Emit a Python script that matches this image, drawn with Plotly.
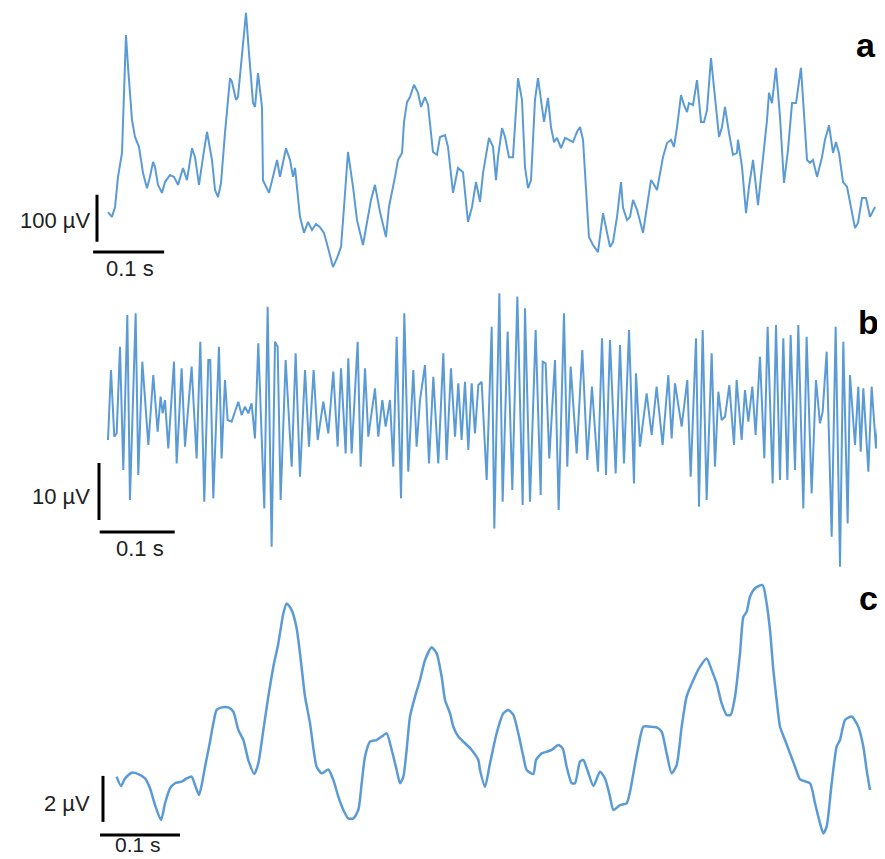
import plotly.graph_objects as go

# ---------------- Panel a (time in ms, amplitude in µV) ----------------
a_t_ms = [0, 5.6, 9.9, 14.1, 19.7, 25.3, 28.2, 33.8, 38.0, 43.6, 49.3, 54.9, 59.1, 63.4, 66.2, 70.4,
          76.0, 80.3, 87.3, 92.9, 98.6, 105.6, 111.2, 118.3, 122.5, 128.1, 133.8, 139.4, 146.4, 150.7,
          154.9, 159.1, 164.7, 171.8, 174.6, 180.2, 183.0, 188.7, 194.3, 198.5, 204.2, 207.0, 211.2,
          216.8, 218.2, 226.7, 232.3, 238.0, 242.2, 250.6, 256.3, 260.5, 263.3, 267.5, 270.3, 276.0,
          281.6, 287.2, 292.9, 298.5, 304.1, 309.8, 316.8, 322.4, 328.1, 332.3, 337.9, 345.0, 350.6,
          359.0, 364.7, 370.3, 375.9, 383.0, 391.4, 395.6, 404.1, 408.3, 414.0, 416.8, 421.0, 425.2,
          430.8, 436.5, 440.7, 446.3, 450.6, 457.6, 463.2, 467.5, 474.5, 478.7, 485.8, 492.8, 499.8,
          506.9, 512.5, 518.1, 523.8, 528.0, 536.4, 542.1, 546.3, 549.1, 554.8, 559.0, 564.6, 570.2,
          577.3, 582.9, 587.1, 591.4, 595.6, 601.2, 605.4, 611.1, 613.9, 619.5, 623.7, 628.0, 632.2,
          637.8, 643.5, 649.1, 654.7, 660.4, 664.6, 668.8, 673.0, 677.2, 682.9, 689.9, 697.0, 702.6,
          706.8, 711.0, 716.7, 722.3, 725.1, 730.8, 735.0, 739.2, 744.9, 753.3, 758.9, 764.5, 767.4,
          773.0, 781.4, 787.1, 792.7, 796.9, 801.2, 806.8, 811.0, 815.3, 818.0, 823.7, 829.3, 835.0,
          839.2, 843.4, 849.0, 854.7, 860.3, 864.5, 868.7, 874.4, 880.0, 885.6, 887.0, 892.7, 898.3,
          902.5, 908.2, 915.2, 922.2, 927.9, 930.7, 934.9, 940.5, 946.2, 951.8, 957.4, 963.1, 968.7,
          975.7, 980.0, 984.2, 988.4, 992.6, 998.3, 1005.3, 1009.5, 1015.2, 1020.8, 1025.0, 1029.2,
          1034.9, 1040.5, 1046.2, 1051.8, 1056.0, 1061.6, 1067.3, 1072.9, 1080.0]
a_uv = [38, 28, 49, 113, 164, 415, 347, 234, 198, 177, 121, 89, 113, 145, 134, 96,
        79, 102, 117, 113, 96, 132, 106, 174, 155, 96, 155, 209, 149, 85,
        70, 100, 206, 323, 315, 277, 283, 368, 462, 377, 270, 262, 334,
        262, 106, 79, 113, 149, 113, 174, 149, 113, 132, 70, 28, -6,
        17, 0, 13, 6, -6, -38, -79, -60, -36, 49, 166, 92, 21,
        -32, 15, 64, 96, 38, -15, 49, 113, 149, 164, 230, 272, 283,
        309, 292, 262, 283, 266, 166, 160, 198, 202, 177, 79, 132, 123,
        17, 49, 102, 60, 121, 196, 177, 106, 155, 217, 198, 155, 155,
        323, 277, 134, 89, 106, 277, 323, 255, 230, 281, 219, 187, 196,
        174, 196, 192, 187, 209, 219, 192, 100, -15, -32, -47, 36, -6,
        -36, -26, 28, 102, 47, 21, 28, 64, 43, -6, 49, 106, 100,
        85, 155, 185, 192, 177, 219, 287, 266, 251, 270, 266, 319, 230,
        230, 255, 366, 277, 198, 219, 262, 206, 160, 164, 192, 134, 36,
        92, 149, 53, 149, 234, 292, 270, 345, 240, 100, 170, 270, 270,
        345, 240, 149, 143, 149, 113, 155, 192, 223, 164, 187, 164,
        102, 92, 49, 4, 15, 68, 68, 28, 49]

# ---------------- Panel b ----------------
b_t_ms = [0, 4.0, 8.4, 11.6, 16.0, 20.4, 25.8, 29.3, 36.9, 40.4, 45.8, 53.8, 60.4, 66.2, 70.2, 72.9,
          76.0, 80.4, 88.0, 91.6, 98.2, 102.7, 111.5, 118.2, 123.1, 128.4, 133.8, 136.4, 140.4, 148.0,
          151.5, 156.0, 159.5, 164.9, 173.8, 178.2, 182.7, 187.1, 191.5, 196.0, 200.4, 208.4, 212.9,
          218.2, 222.7, 226.2, 230.2, 236.9, 244.9, 250.2, 256.0, 262.7, 268.0, 274.2, 279.6, 287.1,
          293.8, 300.4, 306.2, 310.7, 316.9, 320.4, 324.9, 332.9, 336.9, 342.7, 347.1, 356.0, 360.4,
          365.8, 370.2, 376.0, 380.4, 384.9, 390.7, 395.1, 400.4, 407.1, 411.5, 416.0, 422.7, 428.0,
          433.8, 440.4, 447.1, 451.5, 457.3, 462.7, 467.1, 471.5, 476.0, 480.4, 484.9, 489.3, 493.8,
          498.2, 504.9, 511.6, 515.1, 521.8, 526.2, 532.9, 539.1, 545.8, 552.9, 556.0, 562.7, 570.2,
          576.9, 579.6, 583.5, 588.4, 596.0, 600.9, 608.0, 612.4, 616.9, 624.9, 632.4, 639.1, 645.3,
          653.3, 658.7, 664.0, 669.3, 676.9, 682.7, 688.0, 694.7, 701.3, 704.0, 709.3, 718.2, 724.9,
          731.5, 739.5, 747.1, 751.5, 756.0, 764.9, 772.4, 776.9, 784.0, 788.0, 792.9, 798.2, 804.9,
          809.3, 813.8, 818.2, 822.7, 828.4, 834.7, 838.2, 844.9, 849.3, 853.8, 859.1, 863.5, 869.3,
          875.1, 879.5, 886.2, 890.7, 896.0, 900.4, 905.8, 910.2, 916.0, 920.4, 927.1, 931.5, 938.2,
          944.0, 949.3, 952.9, 958.2, 964.9, 970.2, 976.0, 980.4, 986.2, 989.3, 996.0, 1000.4, 1003.6,
          1007.1, 1013.8, 1018.2, 1024.0, 1031.5]
b_uv = [-4.74, 7.54, -4.16, -3.57, 11.63, -10.00, 17.19, -15.27, 17.48, -10.88, 9.00, -5.62, 6.66, -3.28, 2.86, -0.06,
        2.28, -6.20, 9.00, -8.83, 7.83, -5.91, 8.13, -7.96, 12.51, -15.56, 9.30, 9.30, -14.97, 11.63,
        -7.96, 5.79, -1.23, -1.52, 1.98, -0.35, 1.11, -0.06, 1.69, -4.45, 12.22, -16.73, 18.65,
        -23.45, 12.51, 11.63, -15.27, 9.30, -9.42, 10.46, -11.17, 7.54, -5.91, 7.54, -4.74, 1.98,
        -3.57, 7.25, -5.91, 7.83, -7.08, 9.59, -7.08, 12.51, -9.42, 7.83, -4.16, 4.32, -4.16,
        2.28, -2.40, 2.28, -9.42, 13.39, -14.97, 17.48, -10.30, 7.54, -5.91, 2.28, 8.42, -8.83,
        6.37, -8.83, 10.46, -8.25, 7.83, -4.16, 5.20, -4.74, 5.49, -6.49, 5.20, -3.57, 4.91,
        5.49, -11.76, 15.14, -20.24, 20.99, -15.56, 14.27, -13.51, 20.41, -16.14, 18.36, -15.56, 14.56,
        -14.39, 9.00, 8.71, -7.96, 9.30, -17.02, 17.48, -9.42, 8.13, -7.08, 11.05, -8.25, 4.62,
        -10.30, 13.10, -10.88, 12.80, -10.59, 11.93, -8.83, 14.56, -12.34, 6.96, -5.91, 3.45, -3.86,
        4.62, -5.62, 6.66, -4.45, 5.20, -2.40, 5.79, -11.17, 13.10, -16.44, 14.56, -15.27, 10.46,
        -9.42, 3.74, -1.23, -0.65, 4.91, -5.62, 5.79, -4.74, 4.03, -1.52, 4.62, -3.86, 9.88,
        -7.96, 15.14, -12.34, 15.44, -11.76, 13.10, -11.76, 13.68, -10.00, 15.44, -16.73, 13.39, -14.10,
        5.79, -1.82, 0.23, 10.76, -21.70, 15.14, -26.96, 12.51, -19.36, 6.66, -5.62, 4.62, -6.79,
        4.32, -10.30, 4.62, -6.20, 4.62]

# ---------------- Panel c ----------------
c_t_ms = [10.8, 16.3, 21.3, 29.6, 37.9, 46.3, 52.5, 58.8, 66.3, 71.3, 77.5, 83.8, 92.1, 98.3, 104.6,
          108.8, 113.8, 117.1, 121.3, 127.5, 131.7, 135.8, 142.1, 150.4, 156.7, 162.9, 169.2, 175.4,
          182.9, 187.9, 194.2, 200.4, 206.7, 212.9, 219.2, 223.3, 229.6, 235.8, 240.0, 246.3, 252.5,
          260.8, 267.1, 275.4, 281.7, 287.9, 294.2, 300.4, 306.7, 312.9, 317.1, 321.3, 327.5, 335.8,
          342.1, 348.3, 354.6, 360.8, 365.0, 369.2, 373.3, 377.5, 383.8, 390.0, 396.3, 404.6, 410.8,
          417.1, 421.3, 427.5, 431.7, 437.9, 446.3, 454.6, 462.9, 465.0, 471.3, 477.5, 485.8, 494.2,
          500.4, 506.7, 512.9, 519.2, 523.3, 531.7, 535.0, 542.1, 548.3, 554.6, 562.9, 568.3, 573.3,
          579.6, 583.8, 590.0, 594.2, 599.2, 606.7, 615.0, 621.3, 627.5, 631.7, 640.0, 648.3, 652.5,
          656.7, 662.9, 669.2, 677.5, 685.8, 692.1, 698.3, 704.6, 710.8, 717.1, 723.3, 731.7, 740.0,
          748.3, 754.6, 760.8, 767.1, 773.3, 778.3, 783.8, 790.0, 794.2, 798.3, 802.5, 808.8, 818.3,
          823.3, 827.5, 831.7, 835.8, 840.0, 846.3, 852.5, 858.8, 865.0, 877.5, 883.8, 890.0, 894.2,
          898.3, 904.6, 910.8, 915.0, 921.3, 929.6, 937.9, 944.2, 948.3, 952.5]
c_uv = [-3.33, -3.74, -3.41, -3.16, -3.22, -3.41, -3.84, -4.57, -5.22, -4.49, -3.84, -3.62, -3.55, -3.41, -3.33,
        -3.70, -4.13, -3.70, -2.90, -1.81, -1.01, -0.43, -0.32, -0.32, -0.51, -1.30, -1.74, -2.61,
        -3.22, -2.75, -1.30, 0.15, 1.45, 2.46, 3.77, 4.20, 3.91, 3.12, 2.03, 0.15, -1.01,
        -2.90, -3.19, -3.02, -3.48, -4.20, -4.78, -5.15, -5.15, -4.78, -3.62, -2.46, -1.81, -1.74,
        -1.59, -1.45, -2.17, -3.04, -3.62, -3.33, -2.17, -0.72, 0.15, 0.87, 1.74, 2.29, 2.03,
        1.01, 0.00, -0.58, -1.16, -1.59, -1.88, -2.17, -2.61, -3.04, -3.77, -2.75, -1.45, -0.58,
        -0.43, -0.65, -1.45, -2.46, -3.04, -3.22, -2.61, -2.32, -2.25, -2.17, -1.96, -2.10, -2.90,
        -3.62, -3.62, -2.68, -2.61, -3.04, -3.74, -3.12, -3.41, -4.20, -4.78, -4.57, -4.49, -3.99,
        -3.19, -2.03, -1.16, -1.16, -1.19, -1.38, -2.32, -3.19, -2.83, -1.16, 0.15, 0.87, 1.45,
        1.81, 1.30, 0.72, -0.15, -0.65, -0.65, 0.15, 2.03, 3.62, 3.84, 4.49, 4.86, 5.00,
        4.20, 3.04, 1.30, 0.00, -1.16, -1.74, -2.32, -2.90, -3.45, -3.62, -4.49, -5.36, -5.80,
        -5.51, -3.62, -2.03, -1.74, -0.87, -0.72, -1.16, -2.03, -3.04, -3.91]

# scale bar sizes
bar_time_ms = 100
bar_a_uv, bar_b_uv, bar_c_uv = 100, 10, 2
panel_letters = ["a", "b", "c"]
bar_labels = ["100 µV", "10 µV", "2 µV"]
time_label = "0.1 s"

LINE = "#5B9BD5"
FONT = "Liberation Sans"
W, H = 877, 851  # page body keeps an 8 px margin, so the figure fills the rest of the 885x859 window

fig = go.Figure()
fig.add_trace(go.Scatter(x=a_t_ms, y=a_uv, mode="lines", line=dict(color=LINE, width=2),
                         xaxis="x", yaxis="y", hoverinfo="skip"))
fig.add_trace(go.Scatter(x=b_t_ms, y=b_uv, mode="lines", line=dict(color=LINE, width=2),
                         xaxis="x2", yaxis="y2", hoverinfo="skip"))
fig.add_trace(go.Scatter(x=c_t_ms, y=c_uv, mode="lines", line=dict(color=LINE, width=2.5, shape="spline", smoothing=0.6),
                         xaxis="x3", yaxis="y3", hoverinfo="skip"))

hidden = dict(visible=False, showgrid=False, zeroline=False, domain=[0, 1])
fig.update_layout(
    width=W, height=H, margin=dict(l=0, r=0, t=0, b=0),
    paper_bgcolor="white", plot_bgcolor="rgba(0,0,0,0)", showlegend=False,
    xaxis=dict(range=[-140.8, 1094.0], anchor="y", **hidden),
    yaxis=dict(range=[-1338.5, 472.4], anchor="x", **hidden),
    xaxis2=dict(range=[-133.3, 1036.0], anchor="y2", **hidden),
    yaxis2=dict(range=[-78.23, 71.04], anchor="x2", **hidden),
    xaxis3=dict(range=[-125.0, 971.25], anchor="y3", **hidden),
    yaxis3=dict(range=[-6.913, 30.09], anchor="x3", **hidden),
)

bar = dict(color="black", width=3)
lab_font = dict(family=FONT, size=22, color="#222")
shapes = []
annotations = []
# panel a scale bars
shapes.append(dict(type="line", xref="x", yref="y", x0=-15.5, x1=-15.5, y0=-25, y1=-25 + bar_a_uv, line=bar))
shapes.append(dict(type="line", xref="x", yref="y", x0=-21, x1=-21 + bar_time_ms, y0=-46.8, y1=-46.8, line=bar))
annotations.append(dict(xref="x", yref="y", x=-22, y=21, text=bar_labels[0], showarrow=False,
                        xanchor="right", yanchor="middle", font=lab_font))
annotations.append(dict(xref="x", yref="y", x=31, y=-81, text=time_label, showarrow=False,
                        xanchor="center", yanchor="middle", font=lab_font))
# panel b
shapes.append(dict(type="line", xref="x2", yref="y2", x0=-12, x1=-12, y0=-18.77, y1=-18.77 + bar_b_uv, line=bar))
shapes.append(dict(type="line", xref="x2", yref="y2", x0=-11, x1=-11 + bar_time_ms, y0=-20.87, y1=-20.87, line=bar))
annotations.append(dict(xref="x2", yref="y2", x=-21.5, y=-14.6, text=bar_labels[1], showarrow=False,
                        xanchor="right", yanchor="middle", font=lab_font))
annotations.append(dict(xref="x2", yref="y2", x=42.7, y=-23.7, text=time_label, showarrow=False,
                        xanchor="center", yanchor="middle", font=lab_font))
# panel c
shapes.append(dict(type="line", xref="x3", yref="y3", x0=-6.25, x1=-6.25, y0=-5.30, y1=-5.30 + bar_c_uv, line=bar))
shapes.append(dict(type="line", xref="x3", yref="y3", x0=-10, x1=-10 + bar_time_ms, y0=-5.87, y1=-5.87, line=bar))
annotations.append(dict(xref="x3", yref="y3", x=-20, y=-4.48, text=bar_labels[2], showarrow=False,
                        xanchor="right", yanchor="middle", font=lab_font))
annotations.append(dict(xref="x3", yref="y3", x=37.5, y=-6.87, text=time_label, showarrow=False,
                        xanchor="center", yanchor="bottom", font=dict(family=FONT, size=21, color="#222")))

# panel letters (positions in window pixels, converted to paper fractions)
for letter, (px, py) in zip(panel_letters, [(866, 45), (868, 322), (868, 598)]):
    annotations.append(dict(xref="paper", yref="paper", x=(px - 8) / W, y=1 - (py - 8) / H, text=f"<b>{letter}</b>",
                            showarrow=False, xanchor="center", yanchor="middle",
                            font=dict(family=FONT, size=34, color="black")))

fig.update_layout(shapes=shapes, annotations=annotations)
fig.write_html("out.html")
